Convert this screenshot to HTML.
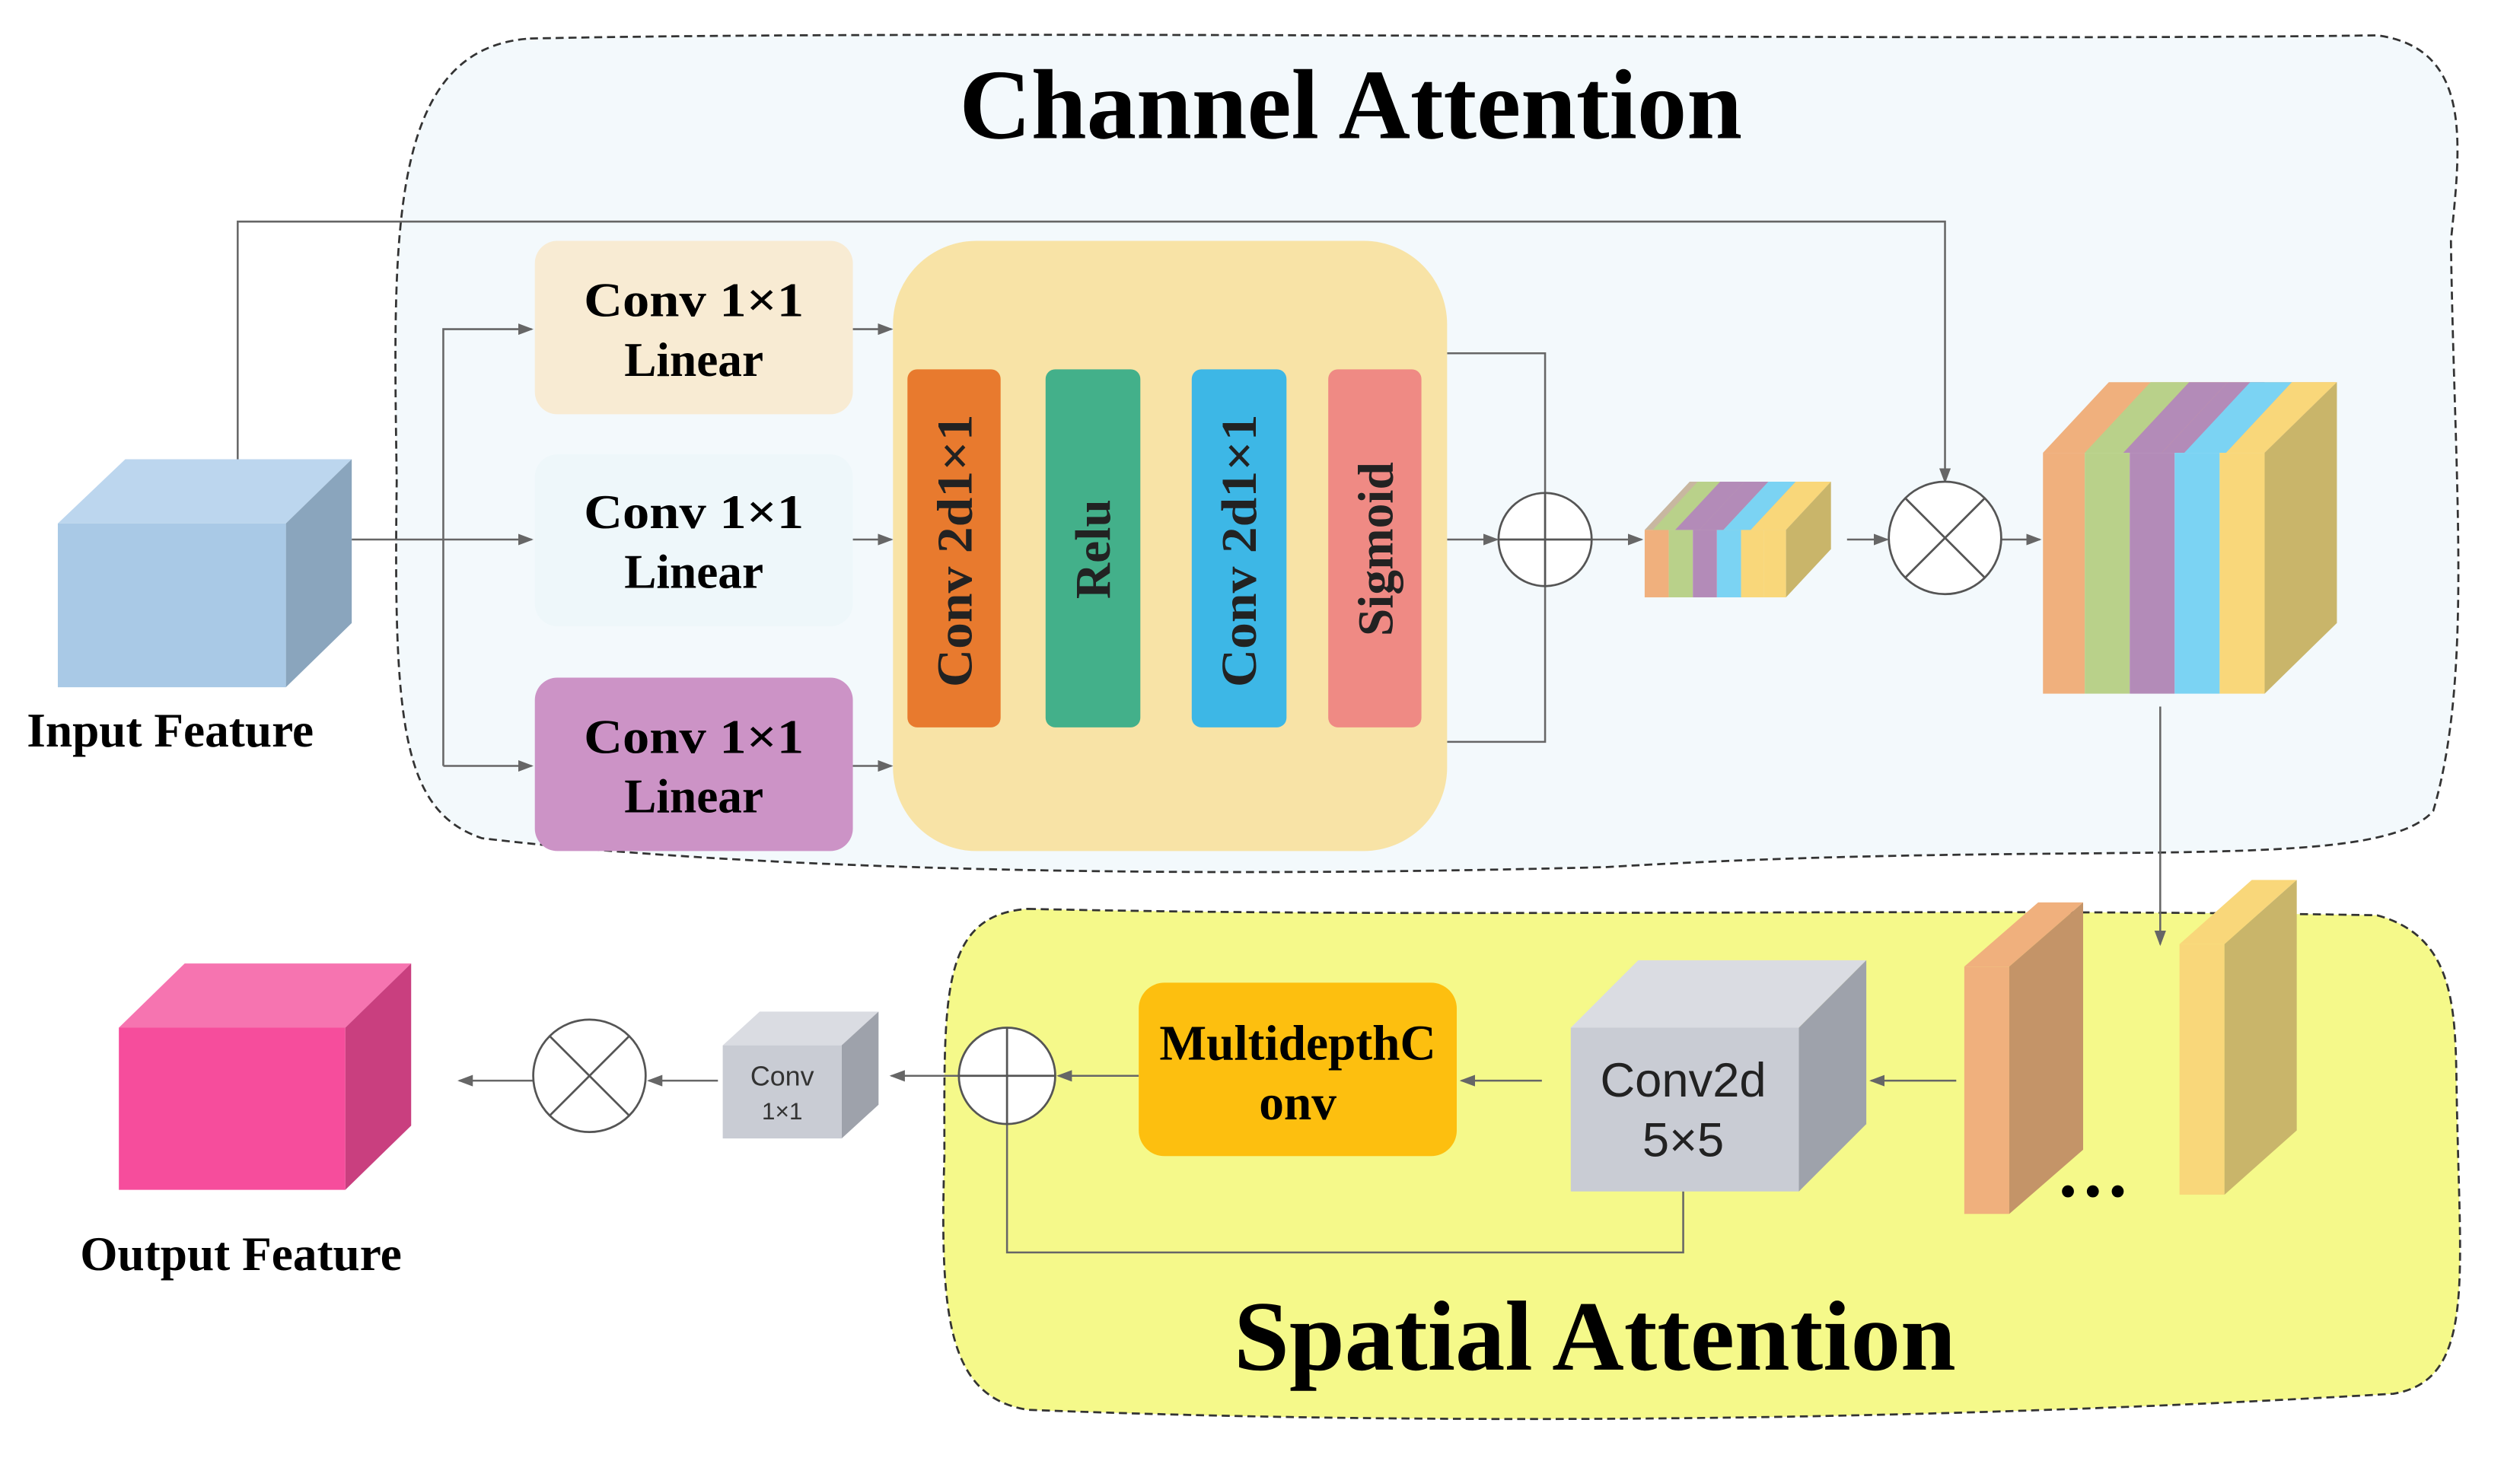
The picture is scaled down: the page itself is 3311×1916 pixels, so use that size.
<!DOCTYPE html>
<html><head><style>html,body{margin:0;padding:0;background:#fff}svg{display:block}</style></head>
<body>
<svg width="3311" height="1916" viewBox="0 0 1569 908" preserveAspectRatio="none" xmlns="http://www.w3.org/2000/svg" font-family="Liberation Serif, serif">
<defs><marker id="a" markerWidth="8" markerHeight="6" refX="7" refY="3" orient="auto"><path d="M0,0 L8,3 L0,6z" fill="#666"/></marker></defs>
<path d="M330,24 C600,18 1200,26 1480,22 C1540,30 1532,90 1526,150 C1528,300 1540,420 1515,505 C1480,545 1300,522 1000,540 C700,548 450,540 300,522 C250,505 245,450 247,300 C245,150 240,30 330,24z" fill="#f3f9fc" stroke="#333" stroke-width="1.3" stroke-dasharray="5,3"/>
<path d="M640,566 C900,572 1200,565 1480,570 C1535,585 1528,640 1530,700 C1532,800 1540,860 1490,868 C1200,885 900,888 640,878 C590,870 585,820 588,720 C588,620 585,570 640,566z" fill="#f5f98a" stroke="#333" stroke-width="1.3" stroke-dasharray="5,3"/>
<text x="841" y="86" font-size="62" font-weight="bold" text-anchor="middle">Channel Attention</text>
<text x="993" y="853" font-size="62" font-weight="bold" text-anchor="middle">Spatial Attention</text>
<g stroke="#666" stroke-width="1.2" fill="none">
<path d="M148,286 V138 H1211 V300" marker-end="url(#a)"/>
<path d="M219,336 H331" marker-end="url(#a)"/>
<path d="M276,477 V205 H331" marker-end="url(#a)"/>
<path d="M276,477 H331" marker-end="url(#a)"/>
<path d="M531,205 H555" marker-end="url(#a)"/><path d="M531,336 H555" marker-end="url(#a)"/><path d="M531,477 H555" marker-end="url(#a)"/>
<path d="M623,336 H650" marker-end="url(#a)"/><path d="M710,336 H741" marker-end="url(#a)"/><path d="M801,336 H826" marker-end="url(#a)"/>
<path d="M901,220 H962 V462 H901"/>
<path d="M901,336 H932" marker-end="url(#a)"/>
<path d="M991,336 H1022" marker-end="url(#a)"/>
<path d="M1150,336 H1175" marker-end="url(#a)"/>
<path d="M1246,336 H1270" marker-end="url(#a)"/>
<path d="M1345,440 V588" marker-end="url(#a)"/>
<path d="M1218,673 H1165" marker-end="url(#a)"/>
<path d="M960,673 H910" marker-end="url(#a)"/>
<path d="M709,670 H659" marker-end="url(#a)"/>
<path d="M1048,742 V780 H627 V700"/>
<path d="M597,670 H555" marker-end="url(#a)"/>
<path d="M447,673 H404" marker-end="url(#a)"/>
<path d="M332,673 H286" marker-end="url(#a)"/>
</g>
<polygon points="36,326 78,286 219,286 178,326" fill="#bcd6ee"/>
<polygon points="178,326 219,286 219,388 178,428" fill="#8aa5bd"/>
<rect x="36" y="326" width="142" height="102" fill="#a9c9e6"/>
<text x="106" y="465" font-size="30" font-weight="bold" text-anchor="middle">Input Feature</text>
<g font-size="30" font-weight="bold" text-anchor="middle">
<rect x="333" y="150" width="198" height="108" rx="14" fill="#f8ebd3"/>
<text x="432" y="197" textLength="137" lengthAdjust="spacingAndGlyphs">Conv 1×1</text><text x="432" y="234">Linear</text>
<rect x="333" y="283" width="198" height="107" rx="14" fill="#eef7fa"/>
<text x="432" y="329" textLength="137" lengthAdjust="spacingAndGlyphs">Conv 1×1</text><text x="432" y="366">Linear</text>
<rect x="333" y="422" width="198" height="108" rx="14" fill="#cc93c6"/>
<text x="432" y="469" textLength="137" lengthAdjust="spacingAndGlyphs">Conv 1×1</text><text x="432" y="506">Linear</text>
</g>
<rect x="556" y="150" width="345" height="380" rx="52" fill="#f8e3a6"/>
<g font-size="31" font-weight="bold" text-anchor="middle" fill="#222">
<rect x="565" y="230" width="58" height="223" rx="6" fill="#e87a2e"/>
<rect x="651" y="230" width="59" height="223" rx="6" fill="#43b08a"/>
<rect x="742" y="230" width="59" height="223" rx="6" fill="#3db7e6"/>
<rect x="827" y="230" width="58" height="223" rx="6" fill="#ef8a84"/>
<text transform="translate(605,343) rotate(-90)" textLength="170" lengthAdjust="spacingAndGlyphs">Conv 2d1×1</text>
<text transform="translate(691,342) rotate(-90)">Relu</text>
<text transform="translate(782,343) rotate(-90)" textLength="170" lengthAdjust="spacingAndGlyphs">Conv 2d1×1</text>
<text transform="translate(867,342) rotate(-90)">Sigmoid</text>
</g>
<g stroke="#555" stroke-width="1.3" fill="#fff">
<circle cx="962" cy="336" r="29"/><path d="M933,336 H991 M962,307 V365"/>
<circle cx="1211" cy="335" r="35"/><path d="M1186,310 L1236,360 M1236,310 L1186,360"/>
<circle cx="627" cy="670" r="30"/><path d="M597,670 H657 M627,640 V700"/>
<circle cx="367" cy="670" r="35"/><path d="M342,645 L392,695 M392,645 L342,695"/>
</g>
<polygon points="1024,330 1052,300 1140,300 1112,330" fill="#c8b7a0"/>
<g><rect x="1024" y="330" width="15" height="42" fill="#f0b07d"/><rect x="1039" y="330" width="15" height="42" fill="#b9d18a"/><rect x="1054" y="330" width="15" height="42" fill="#b38bb8"/><rect x="1069" y="330" width="15" height="42" fill="#7bd3f3"/><rect x="1084" y="330" width="14" height="42" fill="#f9d77a"/><rect x="1098" y="330" width="14" height="42" fill="#f9d77a"/></g>
<polygon points="1057,300 1071,300 1043,330 1029,330" fill="#b9d18a"/><polygon points="1071,300 1086,300 1058,330 1043,330" fill="#b38bb8"/><polygon points="1086,300 1101,300 1073,330 1058,330" fill="#b38bb8"/><polygon points="1101,300 1118,300 1090,330 1073,330" fill="#7bd3f3"/><polygon points="1118,300 1140,300 1112,330 1090,330" fill="#f9d77a"/>
<polygon points="1112,330 1140,300 1140,342 1112,372" fill="#c9b56a"/>
<polygon points="1272,282 1313,238 1455,238 1410,282" fill="#f0b07d"/>
<polygon points="1298,282 1339,238 1363,238 1322,282" fill="#b9d18a"/>
<polygon points="1322,282 1363,238 1387,238 1346,282" fill="#b38bb8"/>
<polygon points="1346,282 1387,238 1410,238 1369,282" fill="#b38bb8"/>
<polygon points="1360,282 1401,238 1427,238 1386,282" fill="#7bd3f3"/>
<polygon points="1386,282 1427,238 1455,238 1410,282" fill="#f9d77a"/>
<rect x="1272" y="282" width="26" height="150" fill="#f0b07d"/><rect x="1298" y="282" width="28" height="150" fill="#b9d18a"/><rect x="1326" y="282" width="28" height="150" fill="#b38bb8"/><rect x="1354" y="282" width="28" height="150" fill="#7bd3f3"/><rect x="1382" y="282" width="28" height="150" fill="#f9d77a"/>
<polygon points="1410,282 1455,238 1455,388 1410,432" fill="#c9b56a"/>
<polygon points="1223,602 1269,562 1297,562 1251,602" fill="#f0b07d"/>
<rect x="1223" y="602" width="28" height="154" fill="#f0b07d"/>
<polygon points="1251,602 1297,562 1297,716 1251,756" fill="#c49468"/>
<polygon points="1357,588 1402,548 1430,548 1385,588" fill="#f9d77a"/>
<rect x="1357" y="588" width="28" height="156" fill="#f9d77a"/>
<polygon points="1385,588 1430,548 1430,704 1385,744" fill="#c9b56a"/>
<text x="1303" y="745" font-size="46" font-weight="bold" text-anchor="middle">…</text>
<polygon points="978,640 1020,598 1162,598 1120,640" fill="#dadce2"/>
<polygon points="1120,640 1162,598 1162,700 1120,742" fill="#9ea2ab"/>
<rect x="978" y="640" width="142" height="102" fill="#c9ccd4"/>
<text x="1048" y="683" font-size="30" font-family="Liberation Sans, sans-serif" text-anchor="middle" fill="#222">Conv2d</text>
<text x="1048" y="720" font-size="30" font-family="Liberation Sans, sans-serif" text-anchor="middle" fill="#222">5×5</text>
<rect x="709" y="612" width="198" height="108" rx="16" fill="#fdbf0f"/>
<text x="808" y="660" font-size="31" font-weight="bold" text-anchor="middle">MultidepthC</text>
<text x="808" y="697" font-size="31" font-weight="bold" text-anchor="middle">onv</text>
<polygon points="450,651 473,630 547,630 524,651" fill="#dadce2"/>
<polygon points="524,651 547,630 547,688 524,709" fill="#9ea2ab"/>
<rect x="450" y="651" width="74" height="58" fill="#c9ccd4"/>
<text x="487" y="676" font-size="17" font-family="Liberation Sans, sans-serif" text-anchor="middle" fill="#333">Conv</text>
<text x="487" y="697" font-size="15" font-family="Liberation Sans, sans-serif" text-anchor="middle" fill="#333">1×1</text>
<polygon points="74,640 115,600 256,600 215,640" fill="#f674b0"/>
<polygon points="215,640 256,600 256,701 215,741" fill="#c93f7f"/>
<rect x="74" y="640" width="141" height="101" fill="#f64d9c"/>
<text x="150" y="791" font-size="30" font-weight="bold" text-anchor="middle">Output Feature</text>
</svg>
</body></html>
